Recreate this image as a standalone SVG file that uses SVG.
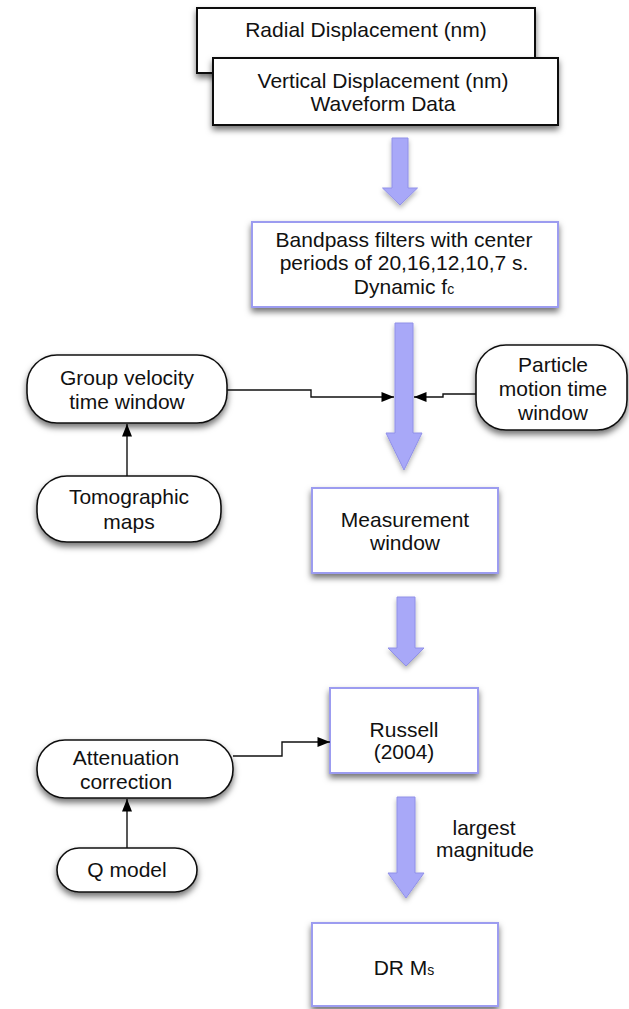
<svg xmlns="http://www.w3.org/2000/svg" width="629" height="1009" viewBox="0 0 629 1009">
<defs>
<filter id="sh" x="-20%" y="-20%" width="140%" height="160%">
<feDropShadow dx="0" dy="4" stdDeviation="3" flood-color="#000" flood-opacity="0.55"/>
</filter>
<filter id="sh2" x="-50%" y="-20%" width="200%" height="150%">
<feDropShadow dx="0" dy="3" stdDeviation="2.5" flood-color="#000" flood-opacity="0.3"/>
</filter>
<marker id="ah" viewBox="0 0 10 8" refX="10" refY="4" markerWidth="13" markerHeight="10" markerUnits="userSpaceOnUse" orient="auto">
<path d="M0,0 L10,4 L0,8 Z" fill="#000"/>
</marker>
<style>
text{font-family:"Liberation Sans",Arial,sans-serif;font-size:21px;fill:#111;text-anchor:middle}
.bk{fill:#fff;stroke:#111;stroke-width:2}
.pb{fill:#fff;stroke:#9c9cf0;stroke-width:2}
.pill{fill:#fff;stroke:#111;stroke-width:1.6}
.ba{fill:#a8a8f8;stroke:#9090e8;stroke-width:1}
.cn{fill:none;stroke:#111;stroke-width:1.4}
</style>
</defs>
<g id="radial"><rect class="bk" x="197" y="8" width="338" height="65" filter="url(#sh)"/><text x="366" y="37">Radial Displacement (nm)</text></g>
<g id="vertical"><rect class="bk" x="213" y="58" width="345" height="67" filter="url(#sh)"/><text x="383" y="88">Vertical Displacement (nm)</text><text x="383" y="111">Waveform Data</text></g>
<g id="bandpass"><rect class="pb" x="252" y="222" width="306" height="85" filter="url(#sh)"/><text x="404" y="247">Bandpass filters with center</text><text x="404" y="270">periods of 20,16,12,10,7 s.</text><text x="404" y="294">Dynamic f<tspan font-size="14">c</tspan></text></g>
<g id="groupvel"><rect class="pill" x="27" y="355" width="200" height="68" rx="30" filter="url(#sh)"/><text x="127" y="385">Group velocity</text><text x="127" y="409">time window</text></g>
<g id="particle"><rect class="pill" x="476" y="345" width="151" height="85" rx="30" filter="url(#sh)"/><text x="553" y="372">Particle</text><text x="553" y="396">motion time</text><text x="553" y="420">window</text></g>
<g id="tomo"><rect class="pill" x="37" y="476" width="184" height="66" rx="30" filter="url(#sh)"/><text x="129" y="504">Tomographic</text><text x="129" y="529">maps</text></g>
<g id="measure"><rect class="pb" x="312" y="488" width="186" height="85" filter="url(#sh)"/><text x="405" y="527">Measurement</text><text x="405" y="550">window</text></g>
<g id="russell"><rect class="pb" x="330" y="688" width="148" height="85" filter="url(#sh)"/><text x="404" y="737">Russell</text><text x="404" y="759">(2004)</text></g>
<g id="atten"><rect class="pill" x="37" y="740" width="196" height="58" rx="28" filter="url(#sh)"/><text x="126" y="765">Attenuation</text><text x="126" y="789">correction</text></g>
<g id="qmodel"><rect class="pill" x="57" y="848" width="140" height="44" rx="22" filter="url(#sh)"/><text x="127" y="877">Q model</text></g>
<g id="drms"><rect class="pb" x="312" y="923" width="186" height="83" filter="url(#sh)"/><text x="404" y="975">DR M<tspan font-size="14">s</tspan></text></g>
<g id="connectors">
<polygon class="ba" filter="url(#sh2)" points="392,138 408,138 408,188 417.5,188 400,205 382.5,188 392,188"/>
<polygon class="ba" filter="url(#sh2)" points="395,323 413,323 413,433 422,433 404,470 386,433 395,433"/>
<polygon class="ba" filter="url(#sh2)" points="397,597 415,597 415,648 424,648 406,666 388,648 397,648"/>
<polygon class="ba" filter="url(#sh2)" points="397,797 415,797 415,873 424,873 406,898 388,873 397,873"/>
<path class="cn" d="M227,390 H311 V397 H394" marker-end="url(#ah)"/>
<path class="cn" d="M476,394 H443 V397 H414" marker-end="url(#ah)"/>
<path class="cn" d="M127,476 V424" marker-end="url(#ah)"/>
<path class="cn" d="M233,756 H282 V742 H330" marker-end="url(#ah)"/>
<path class="cn" d="M127,848 V799" marker-end="url(#ah)"/>
<text x="484" y="835">largest</text><text x="485" y="857">magnitude</text>
</g>
</svg>
